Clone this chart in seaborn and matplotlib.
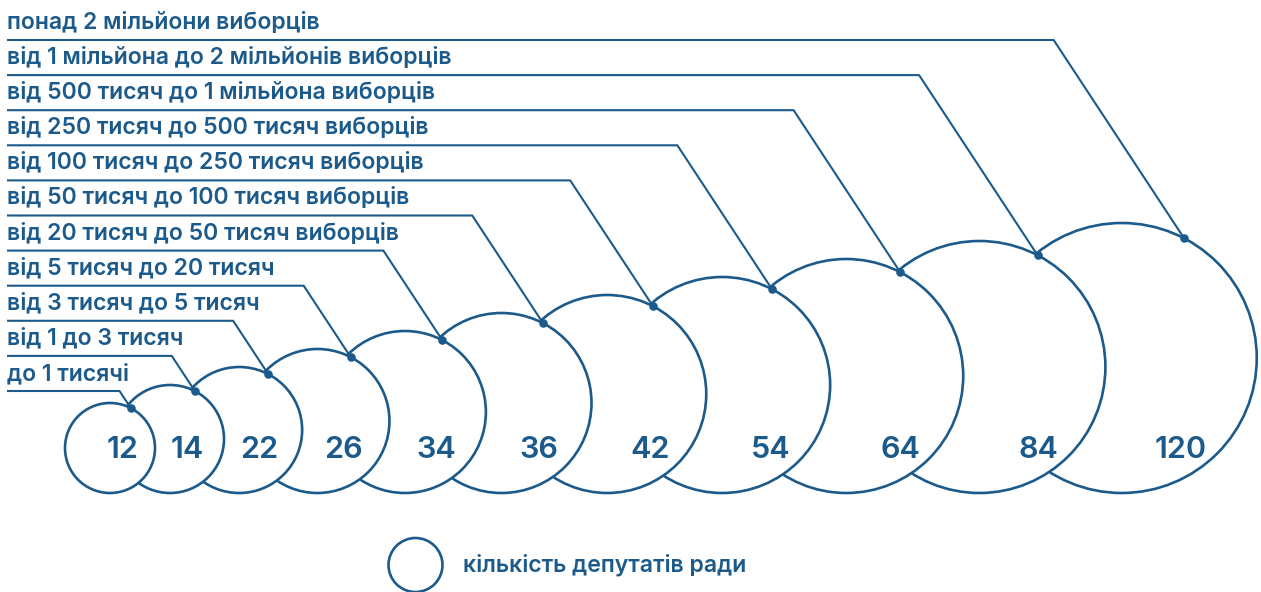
import numpy as np
import pandas as pd
import seaborn as sns
import matplotlib.pyplot as plt
from matplotlib.patches import Circle

# Кількість депутатів ради за розміром громади (кількість виборців)
deputies = [12, 14, 22, 26, 34, 36, 42, 54, 64, 84, 120]
groups = [
    'до 1 тисячі',
    'від 1 до 3 тисяч',
    'від 3 тисяч до 5 тисяч',
    'від 5 тисяч до 20 тисяч',
    'від 20 тисяч до 50 тисяч виборців',
    'від 50 тисяч до 100 тисяч виборців',
    'від 100 тисяч до 250 тисяч виборців',
    'від 250 тисяч до 500 тисяч виборців',
    'від 500 тисяч до 1 мільйона виборців',
    'від 1 мільйона до 2 мільйонів виборців',
    'понад 2 мільйони виборців',
]
legend_label = 'кількість депутатів ради'

sns.set_style('white')
plt.rcParams['font.family'] = ['Inter', 'DejaVu Sans']
blue = '#1b5a8a'

# layout in pixel units: circles grow by rank, bottom-aligned, overlapping
n = len(deputies)
idx = np.arange(n)
radius = 45 + 9 * idx
cx = 110 + np.concatenate([[0], np.cumsum(60 + 9.15 * idx[:-1])])
cy = 493 - radius

ang = np.deg2rad(27.5)
df = pd.DataFrame({
    'group': groups,
    'deputies': deputies,
    'dot_x': cx + radius * np.sin(ang),
    'dot_y': cy - radius * np.cos(ang),
})
line_y = 391 - 35.1 * idx
elbow_x = df['dot_x'] - (df['dot_y'] - line_y) / 1.52

fig = plt.figure(figsize=(12.61, 5.92), dpi=100)
ax = fig.add_axes([0, 0, 1, 1])

# bigger circles underneath, smaller ones on top
for i in range(n):
    ax.add_patch(Circle((cx[i], cy[i]), radius[i], facecolor='white',
                        edgecolor=blue, lw=1.9, zorder=2 + n - i))
    ax.text(cx[i] + 0.63 * radius[i], 458, str(deputies[i]), ha='right',
            va='baseline', fontsize=22, fontweight='semibold', color=blue,
            zorder=2 + n - i)
    # leader line + underline
    ax.plot([7, elbow_x[i], df['dot_x'][i]], [line_y[i], line_y[i], df['dot_y'][i]],
            color=blue, lw=1.5, zorder=40, solid_capstyle='butt')
    ax.text(7, line_y[i] - 11, groups[i], ha='left', va='baseline',
            fontsize=16.6, fontweight='semibold', color=blue, zorder=41)

sns.scatterplot(data=df, x='dot_x', y='dot_y', s=38, color=blue,
                linewidth=0, zorder=50, ax=ax, legend=False)

# legend
ax.add_patch(Circle((415.5, 565), 27, facecolor='white', edgecolor=blue, lw=1.9))
ax.text(463, 565, legend_label, ha='left', va='center', fontsize=16.6,
        fontweight='semibold', color=blue)

ax.set_xlim(0, 1261)
ax.set_ylim(592, 0)
ax.axis('off')

fig.savefig('out.png', dpi=100, facecolor='white')
